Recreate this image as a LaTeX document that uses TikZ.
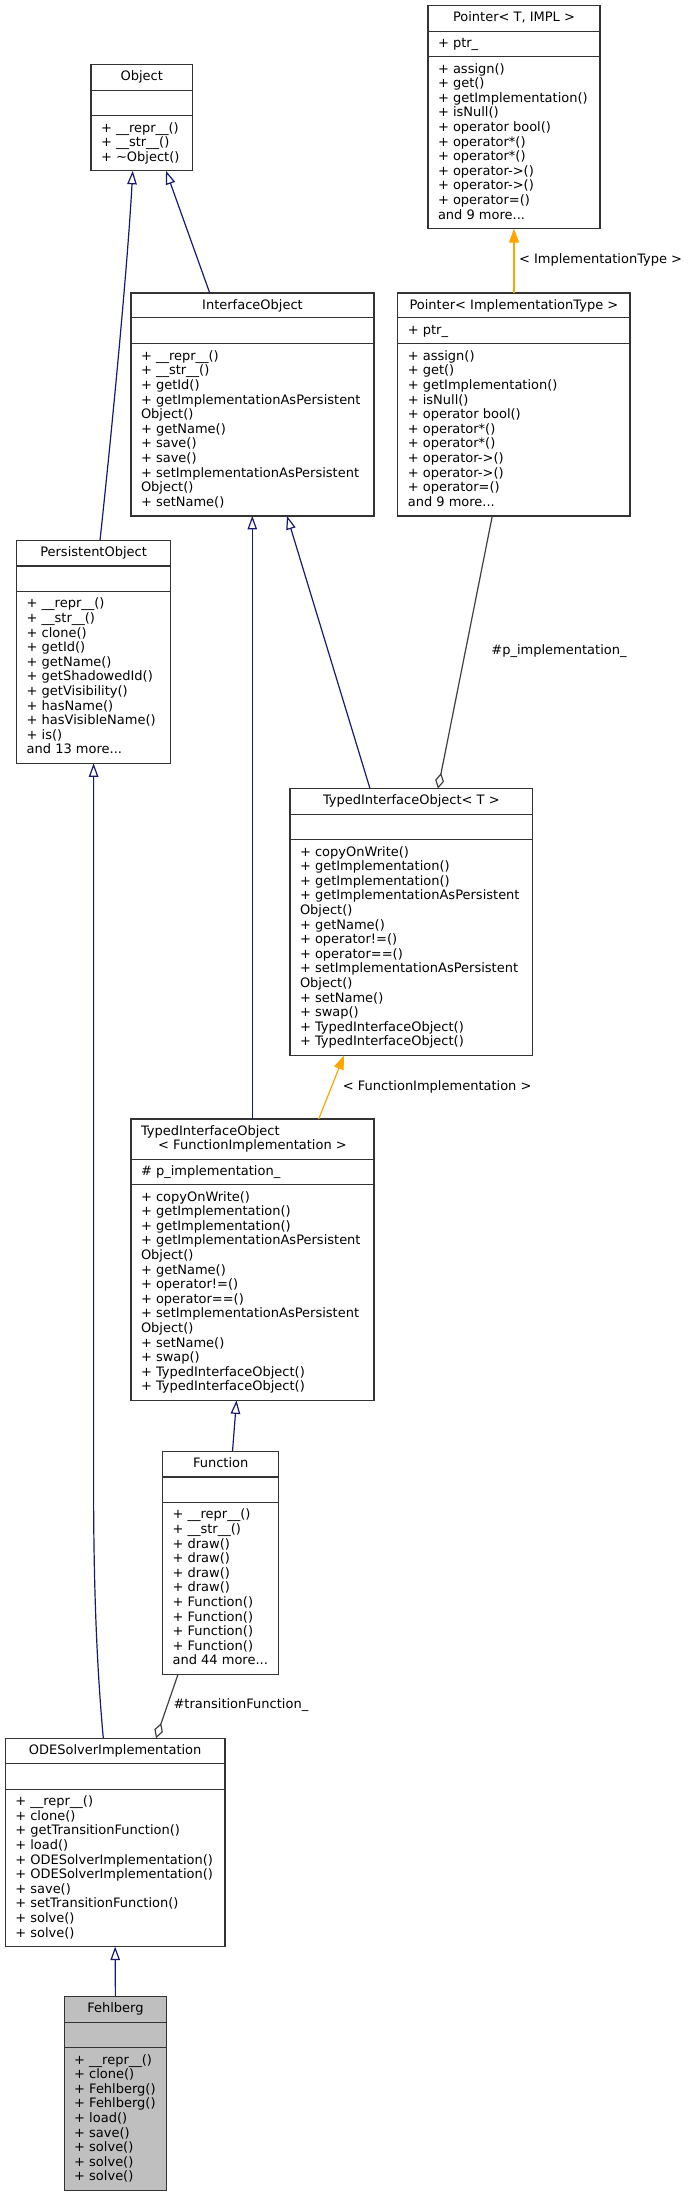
\documentclass[tikz,border=0pt]{standalone}
\usepackage{fontspec}
\setmainfont{DejaVu Sans}
\usetikzlibrary{arrows.meta,calc}
\definecolor{inhc}{HTML}{191970}
\definecolor{tplc}{HTML}{FFA500}
\definecolor{aggc}{HTML}{404040}
\definecolor{bord}{HTML}{333333}
\definecolor{focusfill}{HTML}{BFBFBF}
\newcommand\fstrut{\rule{0pt}{10pt}}
\newcommand\ptrmeth{\fstrut+ assign()\\+ get()\\+ getImplementation()\\+ isNull()\\+ operator bool()\\+ operator*()\\+ operator*()\\+ operator->()\\+ operator->()\\+ operator=()\\and 9 more...}
\newcommand\tiometh{\fstrut+ copyOnWrite()\\+ getImplementation()\\+ getImplementation()\\+ getImplementationAsPersistent\\Object()\\+ getName()\\+ operator!=()\\+ operator==()\\+ setImplementationAsPersistent\\Object()\\+ setName()\\+ swap()\\+ TypedInterfaceObject()\\+ TypedInterfaceObject()}
\begin{document}
\begin{tikzpicture}[x=1pt,y=-1pt,
  cls/.style={draw=bord, line width=1.2pt, fill=white, inner sep=0pt, outer sep=0pt, anchor=north west},
  sepl/.style={draw=bord, line width=1.2pt},
  txt/.style={inner sep=0pt, outer sep=0pt, align=left, anchor=north west, font=\fontsize{13}{14.6}\selectfont},
  hdr/.style={inner sep=0pt, outer sep=0pt, anchor=base, font=\fontsize{13}{14.6}\selectfont},
  lbl/.style={inner sep=0pt, outer sep=0pt, anchor=base west, font=\fontsize{13}{14.6}\selectfont},
  inh/.style={draw=inhc, line width=1.2pt, -{Triangle[open, length=13.5pt, width=9.5pt]}},
  tpl/.style={draw=tplc, line width=1.2pt, -{Triangle[length=14pt, width=10pt, fill=tplc]}},
  agg/.style={draw=aggc, line width=1.2pt, -{Diamond[open, length=16pt, width=9pt]}}
]
\fill[white] (0,0) rectangle (689,2196);
\useasboundingbox (0,0) rectangle (689,2196);

% Pointer< T, IMPL >
\node[cls, minimum width=172pt, minimum height=223pt] (ptrTI) at (428,5.7) {};
\draw[sepl] (ptrTI.west |- 0,31.2) -- (ptrTI.east |- 0,31.2);
\draw[sepl] (ptrTI.west |- 0,56.7) -- (ptrTI.east |- 0,56.7);
\node[hdr] (ptrTI-h) at (514,21.9) {Pointer< T, IMPL >};
\node[txt] (ptrTI-a) at (438,37.5) {\fstrut+ ptr\_};
\node[txt] (ptrTI-m) at (438,63.1) {\ptrmeth};

% Object
\node[cls, minimum width=101.5pt, minimum height=106.2pt] (object) at (91,64.6) {};
\draw[sepl] (object.west |- 0,90.1) -- (object.east |- 0,90.1);
\draw[sepl] (object.west |- 0,115.6) -- (object.east |- 0,115.6);
\node[hdr] (object-h) at (141.75,80.8) {Object};
\node[txt] (object-m) at (101,122) {\fstrut+ \_\_repr\_\_()\\+ \_\_str\_\_()\\+ \textasciitilde Object()};

% InterfaceObject
\node[cls, minimum width=243pt, minimum height=223pt] (iobj) at (131,292.9) {};
\draw[sepl] (iobj.west |- 0,317.4) -- (iobj.east |- 0,317.4);
\draw[sepl] (iobj.west |- 0,343.4) -- (iobj.east |- 0,343.4);
\node[hdr] (iobj-h) at (252.5,309.1) {InterfaceObject};
\node[txt] (iobj-m) at (141,350.3) {\fstrut+ \_\_repr\_\_()\\+ \_\_str\_\_()\\+ getId()\\+ getImplementationAsPersistent\\Object()\\+ getName()\\+ save()\\+ save()\\+ setImplementationAsPersistent\\Object()\\+ setName()};

% Pointer< ImplementationType >
\node[cls, minimum width=232.2pt, minimum height=223pt] (ptrIT) at (397.8,292.9) {};
\draw[sepl] (ptrIT.west |- 0,317.4) -- (ptrIT.east |- 0,317.4);
\draw[sepl] (ptrIT.west |- 0,343.4) -- (ptrIT.east |- 0,343.4);
\node[hdr] (ptrIT-h) at (513.9,309.1) {Pointer< ImplementationType >};
\node[txt] (ptrIT-a) at (407.8,324.7) {\fstrut+ ptr\_};
\node[txt] (ptrIT-m) at (407.8,350.3) {\ptrmeth};

% PersistentObject
\node[cls, minimum width=153.8pt, minimum height=223pt] (pobj) at (16.7,540.4) {};
\draw[sepl] (pobj.west |- 0,565.9) -- (pobj.east |- 0,565.9);
\draw[sepl] (pobj.west |- 0,591.4) -- (pobj.east |- 0,591.4);
\node[hdr] (pobj-h) at (93.6,556.6) {PersistentObject};
\node[txt] (pobj-m) at (26.7,597.8) {\fstrut+ \_\_repr\_\_()\\+ \_\_str\_\_()\\+ clone()\\+ getId()\\+ getName()\\+ getShadowedId()\\+ getVisibility()\\+ hasName()\\+ hasVisibleName()\\+ is()\\and 13 more...};

% TypedInterfaceObject< T >
\node[cls, minimum width=242.7pt, minimum height=266.8pt] (tioT) at (290,788.6) {};
\draw[sepl] (tioT.west |- 0,814.1) -- (tioT.east |- 0,814.1);
\draw[sepl] (tioT.west |- 0,839.6) -- (tioT.east |- 0,839.6);
\node[hdr] (tioT-h) at (411.35,804.8) {TypedInterfaceObject< T >};
\node[txt] (tioT-m) at (300,846) {\tiometh};

% TypedInterfaceObject< FunctionImplementation >
\node[cls, minimum width=243pt, minimum height=281.4pt] (tioF) at (131,1119) {};
\draw[sepl] (tioF.west |- 0,1159.1) -- (tioF.east |- 0,1159.1);
\draw[sepl] (tioF.west |- 0,1184.6) -- (tioF.east |- 0,1184.6);
\node[lbl] (tioF-h1) at (141,1135.2) {TypedInterfaceObject};
\node[hdr] (tioF-h2) at (252.5,1149.8) {< FunctionImplementation >};
\node[txt] (tioF-a) at (141,1165.4) {\fstrut\# p\_implementation\_};
\node[txt] (tioF-m) at (141,1191) {\tiometh};

% Function
\node[cls, minimum width=116.1pt, minimum height=223pt] (func) at (162.6,1451.4) {};
\draw[sepl] (func.west |- 0,1476.9) -- (func.east |- 0,1476.9);
\draw[sepl] (func.west |- 0,1502.4) -- (func.east |- 0,1502.4);
\node[hdr] (func-h) at (220.65,1467.6) {Function};
\node[txt] (func-m) at (172.6,1508.8) {\fstrut+ \_\_repr\_\_()\\+ \_\_str\_\_()\\+ draw()\\+ draw()\\+ draw()\\+ draw()\\+ Function()\\+ Function()\\+ Function()\\+ Function()\\and 44 more...};

% ODESolverImplementation
\node[cls, minimum width=219.7pt, minimum height=208.4pt] (ode) at (5.3,1738.2) {};
\draw[sepl] (ode.west |- 0,1763.7) -- (ode.east |- 0,1763.7);
\draw[sepl] (ode.west |- 0,1789.2) -- (ode.east |- 0,1789.2);
\node[hdr] (ode-h) at (115.15,1754.4) {ODESolverImplementation};
\node[txt] (ode-m) at (15.3,1795.6) {\fstrut+ \_\_repr\_\_()\\+ clone()\\+ getTransitionFunction()\\+ load()\\+ ODESolverImplementation()\\+ ODESolverImplementation()\\+ save()\\+ setTransitionFunction()\\+ solve()\\+ solve()};

% Fehlberg
\node[cls, fill=focusfill, minimum width=102.4pt, minimum height=193.8pt] (fehl) at (64.2,1996.7) {};
\draw[sepl] (fehl.west |- 0,2022.2) -- (fehl.east |- 0,2022.2);
\draw[sepl] (fehl.west |- 0,2047.7) -- (fehl.east |- 0,2047.7);
\node[hdr] (fehl-h) at (115.4,2012.9) {Fehlberg};
\node[txt] (fehl-m) at (74.2,2054.1) {\fstrut+ \_\_repr\_\_()\\+ clone()\\+ Fehlberg()\\+ Fehlberg()\\+ load()\\+ save()\\+ solve()\\+ solve()\\+ solve()};

% connectors
\draw[inh] ($(pobj.north west)+(83.3,0)$) .. controls (113,420) and (128,260) .. ($(object.south west)+(41.7,0)$);
\draw[inh] ($(iobj.north west)+(78.7,0)$) -- ($(object.south west)+(75,0)$);
\draw[inh] ($(tioF.north west)+(121.3,0)$) -- ($(iobj.south west)+(121.3,0)$);
\draw[inh] ($(tioT.north west)+(80,0)$) -- ($(iobj.south west)+(156,0)$);
\draw[tpl] ($(ptrIT.north west)+(116.2,0)$) -- ($(ptrTI.south west)+(86,0)$);
\node[lbl] (lblIT) at (519,263.2) {< ImplementationType >};
\draw[agg] ($(ptrIT.south west)+(94.5,0)$) -- ($(tioT.north west)+(148,0)$);
\node[lbl] (lblPI) at (491.4,654.9) {\#p\_implementation\_};
\draw[tpl] ($(tioF.north west)+(187.7,0)$) -- ($(tioT.south west)+(54,0)$);
\node[lbl] (lblFI) at (342.9,1090.6) {< FunctionImplementation >};
\draw[inh] ($(func.north west)+(69.9,0)$) -- ($(tioF.south west)+(105.5,0)$);
\draw[inh] ($(ode.north west)+(98,0)$) .. controls (99,1690) and (94,1620) .. (93.6,1500) -- ($(pobj.south west)+(76.9,0)$);
\draw[agg] ($(func.south west)+(15.4,0)$) -- ($(ode.north west)+(150.7,0)$);
\node[lbl] (lblTF) at (173.6,1708.7) {\#transitionFunction\_};
\draw[inh] (fehl.north) -- (ode.south);
\end{tikzpicture}
\end{document}
